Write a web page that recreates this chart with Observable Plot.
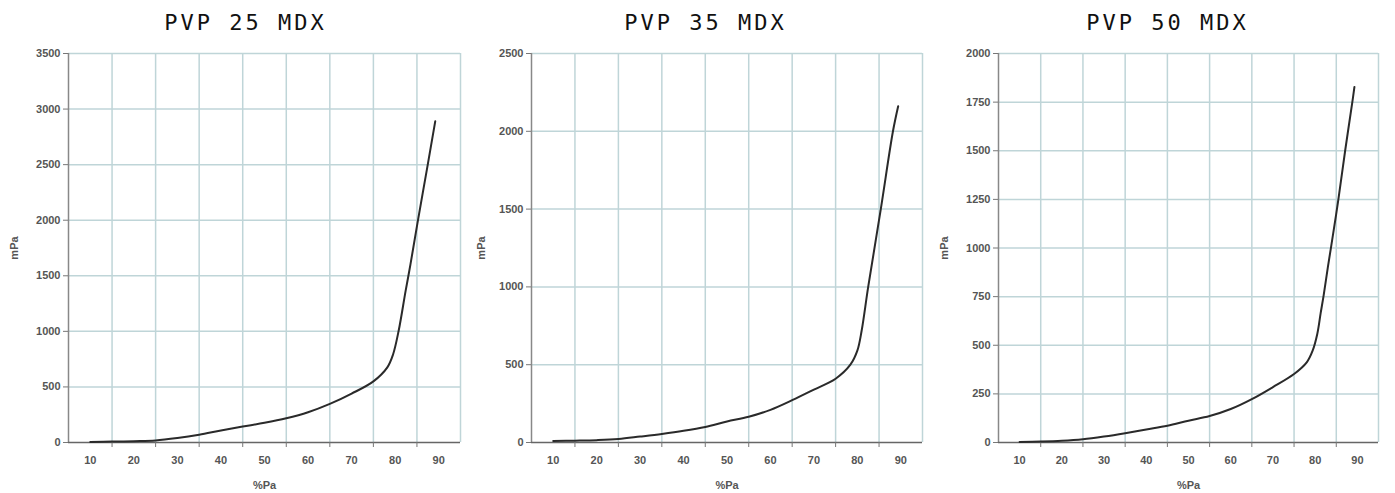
<!DOCTYPE html>
<html>
<head>
<meta charset="utf-8">
<script src="https://cdn.jsdelivr.net/npm/d3@7"></script>
<script src="https://cdn.jsdelivr.net/npm/@observablehq/plot@0.6"></script>
<style>
  html, body { margin: 0; padding: 0; background: #fff; }
  #row { display: flex; width: 1395px; height: 493px; overflow: hidden; }
  .panel { width: 465px; }
  .title { height: 40px; line-height: 46px; text-align: center; font-family: "DejaVu Sans Mono", monospace; font-size: 22px; letter-spacing: 3px; color: #111; }
</style>
</head>
<body>
<div id="row"></div>
<script>
// ---- data ----
const titles = ["PVP 25 MDX", "PVP 35 MDX", "PVP 50 MDX"];
const xLabel = "%Pa";
const yLabel = "mPa";
const xTickLabels = [10, 20, 30, 40, 50, 60, 70, 80, 90];
const xGridLines = [15, 25, 35, 45, 55, 65, 75, 85, 95];
const xDomain = [5, 95];

const pvp25x = [10, 15, 20, 25, 30, 35, 40, 45, 50, 55, 60, 65, 70, 75, 78.2, 79.5, 80.8, 82.4, 83.5, 85.1, 87.3, 89.2];
const pvp25y = [5, 8, 12, 18, 40, 70, 108, 143, 177, 218, 272, 347, 440, 550, 676, 790, 1005, 1364, 1600, 1970, 2460, 2890];
const pvp25Ticks = [0, 500, 1000, 1500, 2000, 2500, 3000, 3500];

const pvp35x = [10, 15, 20, 25, 30, 35, 40, 45, 50, 55, 60, 65, 70, 75, 78.4, 80, 81, 82.5, 85.4, 88.2, 89.4];
const pvp35y = [10, 12, 15, 22, 38, 55, 75, 100, 135, 165, 210, 272, 340, 410, 500, 590, 720, 1000, 1500, 2000, 2161];
const pvp35Ticks = [0, 500, 1000, 1500, 2000, 2500];

const pvp50x = [10, 15, 20, 25, 30, 35, 40, 45, 50, 55, 60, 65, 70, 75, 78, 79.4, 80.5, 81.3, 82, 83, 83.8, 85.5, 87.1, 88.8, 89.3];
const pvp50y = [3, 5, 9, 17, 31, 48, 67, 86, 112, 136, 172, 223, 285, 352, 412, 472, 558, 665, 755, 900, 1010, 1250, 1500, 1750, 1828];
const pvp50Ticks = [0, 250, 500, 750, 1000, 1250, 1500, 1750, 2000];

const panels = [
  {title: titles[0], xs: pvp25x, ys: pvp25y, ticks: pvp25Ticks, ml: 68, mr: 5, lo: 58, shift: 13},
  {title: titles[1], xs: pvp35x, ys: pvp35y, ticks: pvp35Ticks, ml: 66, mr: 8, lo: 54, shift: 8},
  {title: titles[2], xs: pvp50x, ys: pvp50y, ticks: pvp50Ticks, ml: 68, mr: 17, lo: 58, shift: 5}
];

const gridColor = "#bfd5d8";
const row = document.getElementById("row");

for (const p of panels) {
  const data = p.xs.map((x, i) => ({x, y: p.ys[i]}));
  const div = document.createElement("div");
  div.className = "panel";
  const t = document.createElement("div");
  t.className = "title";
  t.style.paddingLeft = (2 * p.shift) + "px";
  t.textContent = p.title;
  div.appendChild(t);

  const chart = Plot.plot({
    width: 465,
    height: 453,
    marginLeft: p.ml,
    marginRight: p.mr,
    marginTop: 13,
    marginBottom: 51,
    style: {fontFamily: "Liberation Sans, Arial, sans-serif", fontSize: "11px", fontWeight: "bold", color: "#555", background: "#fff"},
    x: {domain: xDomain},
    y: {domain: [0, p.ticks[p.ticks.length - 1]]},
    marks: [
      Plot.gridX(xGridLines, {stroke: gridColor, strokeOpacity: 1, strokeWidth: 1.5}),
      Plot.gridY(p.ticks.slice(1), {stroke: gridColor, strokeOpacity: 1, strokeWidth: 1.5}),
      Plot.ruleX([xDomain[0]], {stroke: "#888", strokeWidth: 1.5}),
      Plot.ruleY([0], {stroke: "#666", strokeWidth: 1.5}),
      Plot.axisY(p.ticks, {tickSize: 5, tickPadding: 3, stroke: "#777", tickFormat: d => String(d), label: yLabel, labelAnchor: "center", labelOffset: p.lo, labelArrow: "none"}),
      Plot.axisX(xGridLines.slice(0, -1), {tickSize: 5, stroke: "#777", tickFormat: () => "", label: null}),
      Plot.axisX(xTickLabels, {tickSize: 0, tickPadding: 14, tickFormat: d => String(d), label: xLabel, labelAnchor: "center", labelOffset: 46, labelArrow: "none"}),
      Plot.line(data, {x: "x", y: "y", curve: "catmull-rom", stroke: "#2a2a2a", strokeWidth: 2})
    ]
  });
  div.appendChild(chart);
  row.appendChild(div);
}
</script>
</body>
</html>
